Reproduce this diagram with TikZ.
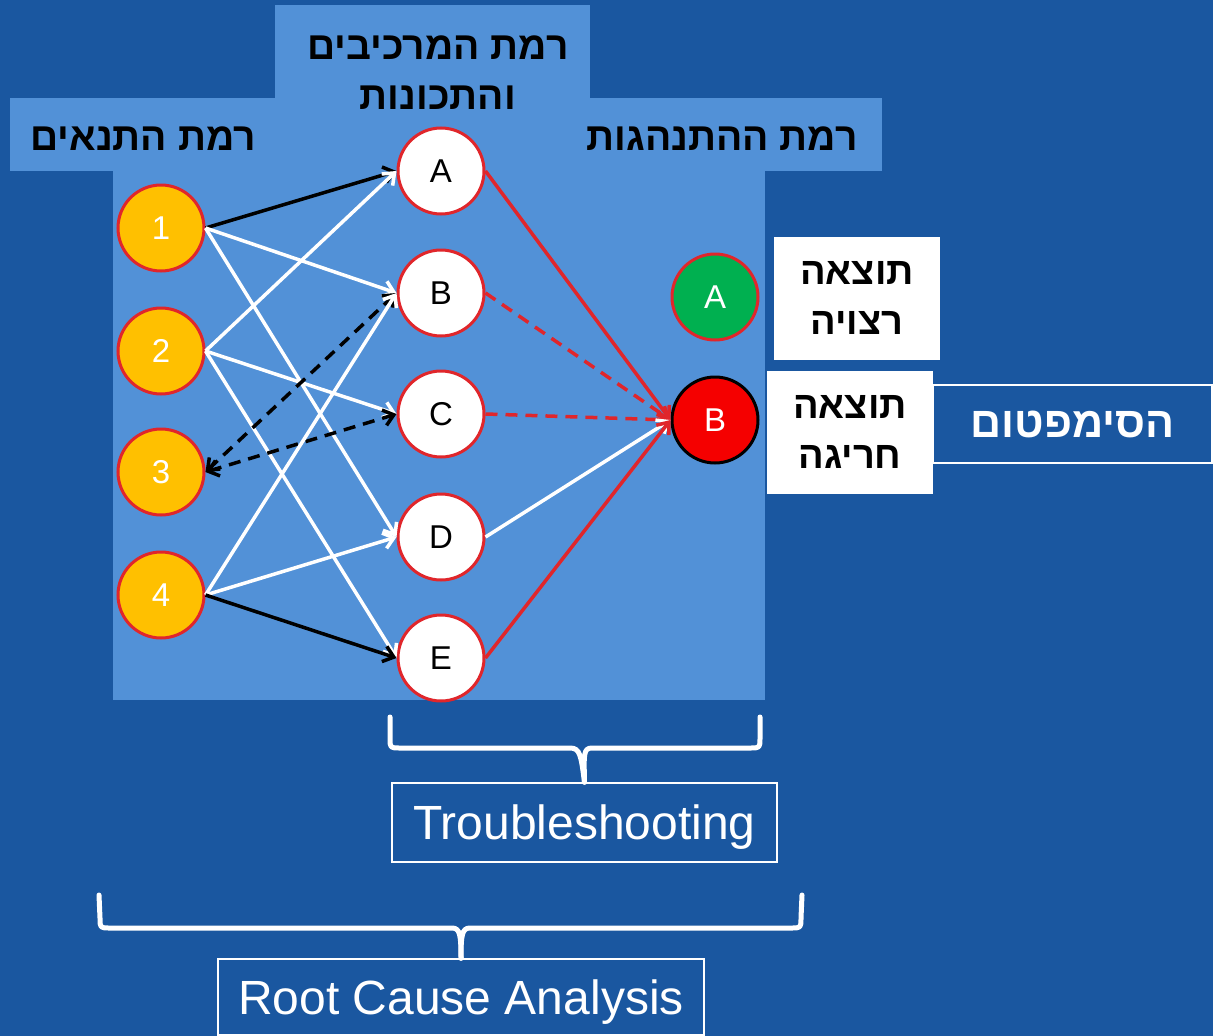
\documentclass[tikz,border=0pt]{standalone}
\usepackage{fontspec}
\setmainfont{Liberation Sans}
\newfontfamily\hebfont[Script=Hebrew]{Liberation Sans}
\TeXXeTstate=1
\usetikzlibrary{arrows.meta}
\definecolor{bgblue}{HTML}{1A57A0}
\definecolor{panelblue}{HTML}{5291D7}
\definecolor{condorange}{HTML}{FFC000}
\definecolor{ringred}{HTML}{E0262B}
\definecolor{okgreen}{HTML}{00B050}
\definecolor{badred}{HTML}{F50000}
\newcommand{\heb}[1]{{\hebfont\bfseries\beginR #1\endR}}
\begin{document}
\begin{tikzpicture}[x=1pt, y=-1pt,
    >={Straight Barb[length=10pt,width=16pt]},
    cond/.style={circle, draw=ringred, line width=3pt, fill=condorange, minimum size=86pt, inner sep=0pt, text=white, font=\fontsize{33}{33}\selectfont},
    part/.style={cond, fill=white, text=black},
    link/.style={line width=3.5pt, ->},
    dashlink/.style={link, dash pattern=on 12pt off 8pt},
    head/.style={text=black, font=\fontsize{39}{50}\selectfont, align=center},
    labelbox/.style={fill=white, text=black, minimum width=166pt, minimum height=123pt, inner sep=0pt, align=center, font=\fontsize{38}{50}\selectfont},
    outbox/.style={draw=white, line width=1.5pt, text=white, inner sep=0pt, text depth=0pt},
    bracket/.style={white, line width=5pt, line cap=round, line join=round}]
    % Background
    \useasboundingbox (0,0) rectangle (1213,1036);
    \fill[bgblue] (0,0) rectangle (1213,1036);

    % Light panel with header tabs
    \fill[panelblue] (275,5) rectangle (590,99);
    \fill[panelblue] (10,98) rectangle (882,171);
    \fill[panelblue] (113,170) rectangle (765,700);

    % Headers
    \node[head] (condhead) at (143,139) {\heb{רמת התנאים}};
    \node[head] (parthead) at (438,73) {\heb{רמת המרכיבים}\\\heb{והתכונות}};
    \node[head] (behhead) at (722,139) {\heb{רמת ההתנהגות}};

    % Conditions
    \node[cond] (c1) at (161,228) {1};
    \node[cond] (c2) at (161,351) {2};
    \node[cond] (c3) at (161,472) {3};
    \node[cond] (c4) at (161,595) {4};

    % Components and properties
    \node[part] (pA) at (441,171) {A};
    \node[part] (pB) at (441,293) {B};
    \node[part] (pC) at (441,414) {C};
    \node[part] (pD) at (441,537) {D};
    \node[part] (pE) at (441,658) {E};

    % Behaviour
    \node[cond, fill=okgreen] (good) at (715,297) {A};
    \node[cond, fill=badred, draw=black] (bad) at (715,420) {B};

    % Conditions to components
    \draw[link, black] (c1.east) -- (pA.west);
    \draw[link, white] (c1.east) -- (pB.west);
    \draw[link, white] (c1.east) -- (pD.west);
    \draw[link, white] (c2.east) -- (pA.west);
    \draw[link, white] (c2.east) -- (pC.west);
    \draw[link, white] (c2.east) -- (pE.west);
    \draw[dashlink, black, <->] (c3.east) -- (pB.west);
    \draw[dashlink, black, <->] (c3.east) -- (pC.west);
    \draw[link, white] (c4.east) -- (pB.west);
    \draw[link, white] (c4.east) -- (pD.west);
    \draw[link, black] (c4.east) -- (pE.west);

    % Components to the bad result
    \draw[link, ringred] (pA.east) -- (bad.west);
    \draw[dashlink, ringred] (pB.east) -- (bad.west);
    \draw[dashlink, ringred] (pC.east) -- (bad.west);
    \draw[link, white] (pD.east) -- (bad.west);
    \draw[link, ringred] (pE.east) -- (bad.west);

    % Result labels
    \node[labelbox] (goodlbl) at (857,298) {\heb{תוצאה}\\\heb{רצויה}};
    \node[labelbox] (badlbl) at (850,432) {\heb{תוצאה}\\\heb{חריגה}};
    \node[outbox, fill=bgblue, minimum width=279pt, minimum height=78pt, font=\fontsize{43}{43}\selectfont] (symptom) at (1072.5,424) {\heb{הסימפטום}};

    % Troubleshooting
    \node[outbox, minimum width=385pt, minimum height=79pt, font=\fontsize{48}{48}\selectfont] (trouble) at (584.5,822.5) {Troubleshooting};
    \draw[bracket] (390,717) -- (390,738) .. controls (390,748) .. (400,748) -- (570,748) .. controls (580,748) and (581,755) .. (trouble.north);
    \draw[bracket] (760,717) -- (760,738) .. controls (760,748) .. (750,748) -- (592,748) .. controls (583,748) and (584,755) .. (trouble.north);

    % Root cause analysis
    \node[outbox, minimum width=486pt, minimum height=76pt, font=\fontsize{48}{48}\selectfont] (rootcause) at (461,997) {Root Cause Analysis};
    \draw[bracket] (99,895) -- (100,918) .. controls (100,928) .. (110,928) -- (452,928) .. controls (460,928) and (461,935) .. (rootcause.north);
    \draw[bracket] (802,895) -- (801,918) .. controls (801,928) .. (791,928) -- (470,928) .. controls (462,928) and (461,935) .. (rootcause.north);
\end{tikzpicture}
\end{document}
